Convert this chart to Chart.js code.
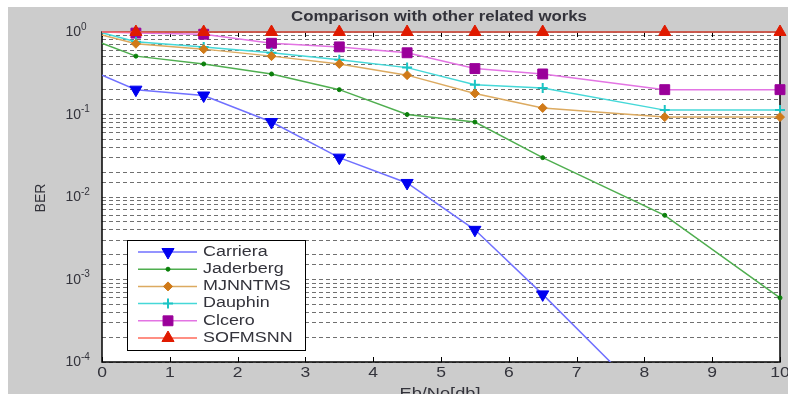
<!DOCTYPE html>
<html>
<head>
<meta charset="utf-8">
<script src="https://cdn.jsdelivr.net/npm/chart.js@4/dist/chart.umd.min.js"></script>
<style>
  html, body { margin: 0; padding: 0; background: #fff; }
  canvas { display: block; }
</style>
</head>
<body>
<canvas id="berChart" width="788" height="394"></canvas>
<script>
// Eb/No sample points
const ebNo = [0, 0.5, 1.5, 2.5, 3.5, 4.5, 5.5, 6.5, 8.3, 10];

// BER values per method
const carriera = [0.30, 0.20, 0.17, 0.081, 0.030, 0.0148, 0.0040, 0.00066, 0.000022, 0.000001];
const jaderberg = [0.73, 0.51, 0.41, 0.31, 0.20, 0.10, 0.081, 0.030, 0.0060, 0.00060];
const mjnntms = [0.92, 0.72, 0.62, 0.51, 0.41, 0.30, 0.18, 0.12, 0.093, 0.093];
const dauphin = [0.98, 0.76, 0.66, 0.56, 0.46, 0.37, 0.23, 0.21, 0.113, 0.113];
const clcero = [1.0, 0.97, 0.94, 0.73, 0.66, 0.56, 0.36, 0.31, 0.20, 0.20];
const sofmsnn = [1, 1, 1, 1, 1, 1, 1, 1, 1, 1];

const xTicks = [0, 1, 2, 3, 4, 5, 6, 7, 8, 9, 10];
const yTickExps = [0, -1, -2, -3, -4];

const chartTitle = 'Comparison with other related works';
const xTitle = 'Eb/No[db]';
const yTitle = 'BER';

function pts(values) {
    return values.map((v, i) => ({ x: ebNo[i], y: v }));
}

function series(label, values, line, marker, style, r, extra) {
    return Object.assign({
        label: label,
        data: pts(values),
        borderColor: line,
        borderWidth: 1.5,
        backgroundColor: marker,
        pointBackgroundColor: marker,
        pointBorderColor: marker,
        pointStyle: style,
        pointRadius: (c) => c.dataIndex === 0 ? 0 : r,
        pointBorderWidth: 1,
        tension: 0,
        clip: 10,
        legendRadius: r
    }, extra || {});
}

const datasets = [
    series('SOFMSNN', sofmsnn, '#ff6a5a', '#e01a00', 'triangle', 7),
    series('Carriera', carriera, '#7070ff', '#0000f0', 'triangle', 7, { pointRotation: 180, clip: 0 }),
    series('Jaderberg', jaderberg, '#4fae4f', '#0a800a', 'circle', 2),
    series('MJNNTMS', mjnntms, '#dcaa60', '#d07a18', 'rectRot', 4.5),
    series('Dauphin', dauphin, '#45d8d8', '#1cc4c4', 'cross', 5, { pointBorderWidth: 2 }),
    series('Clcero', clcero, '#e374e3', '#9a009a', 'rect', 7)
];

const legendOrder = ['Carriera', 'Jaderberg', 'MJNNTMS', 'Dauphin', 'Clcero', 'SOFMSNN'];

function stretchText(ctx, text, x, y, sx, align) {
    ctx.save();
    ctx.translate(x, y);
    ctx.scale(sx, 1);
    ctx.textAlign = align;
    ctx.fillText(text, 0, 0);
    ctx.restore();
}

const decor = {
    id: 'decor',
    beforeDraw(chart) {
        const ctx = chart.ctx, a = chart.chartArea;
        ctx.save();
        ctx.fillStyle = '#ffffff';
        ctx.fillRect(0, 0, chart.width, chart.height);
        ctx.fillStyle = '#cccccc';
        ctx.fillRect(8, 7, chart.width - 8, chart.height - 7);
        ctx.fillStyle = '#ffffff';
        ctx.fillRect(a.left, a.top, a.right - a.left, a.bottom - a.top);
        ctx.restore();
    },
    beforeDatasetsDraw(chart) {
        const ctx = chart.ctx, a = chart.chartArea, xs = chart.scales.x;
        ctx.save();
        ctx.strokeStyle = '#000';
        ctx.lineWidth = 1.5;
        ctx.strokeRect(a.left, a.top, a.right - a.left, a.bottom - a.top);
        ctx.lineWidth = 1;
        ctx.beginPath();
        xTicks.forEach(t => {
            const px = Math.round(xs.getPixelForValue(t)) + 0.5;
            ctx.moveTo(px, a.bottom); ctx.lineTo(px, a.bottom - 5);
            ctx.moveTo(px, a.top); ctx.lineTo(px, a.top + 5);
        });
        ctx.stroke();
        ctx.restore();
    },
    afterDraw(chart) {
        const ctx = chart.ctx, a = chart.chartArea;
        const xs = chart.scales.x, ys = chart.scales.y;
        ctx.save();
        ctx.fillStyle = '#33333b';
        ctx.textBaseline = 'middle';

        // title
        ctx.font = 'bold 14px "Liberation Sans", Arial, sans-serif';
        stretchText(ctx, chartTitle, (a.left + a.right) / 2 - 2, 17.5, 1.2, 'center');

        // x tick labels
        ctx.font = '14px "Liberation Sans", Arial, sans-serif';
        xTicks.forEach(t => {
            stretchText(ctx, String(t), xs.getPixelForValue(t), 373, 1.25, 'center');
        });

        // x title
        ctx.textBaseline = 'top';
        stretchText(ctx, xTitle, 440, 387, 1.3, 'center');

        // y title
        ctx.textBaseline = 'middle';
        ctx.save();
        ctx.translate(41, 198);
        ctx.rotate(-Math.PI / 2);
        ctx.textAlign = 'center';
        ctx.fillText(yTitle, 0, 0);
        ctx.restore();

        // y tick labels 10^n
        yTickExps.forEach(e => {
            const py = ys.getPixelForValue(Math.pow(10, e));
            ctx.font = '14px "Liberation Sans", Arial, sans-serif';
            ctx.textAlign = 'right';
            ctx.fillText('10', 81, py + 0.5);
            ctx.font = '10px "Liberation Sans", Arial, sans-serif';
            ctx.textAlign = 'left';
            ctx.fillText(String(e), 81, py - 5);
        });

        // legend box
        const bx = 127, by = 240, bw = 178, bh = 110;
        ctx.fillStyle = '#ffffff';
        ctx.fillRect(bx, by, bw, bh);
        ctx.strokeStyle = '#000';
        ctx.lineWidth = 1;
        ctx.strokeRect(bx + 0.5, by + 0.5, bw, bh);
        legendOrder.forEach((name, i) => {
            const ds = datasets.find(d => d.label === name);
            const ry = 252 + i * 17.2;
            ctx.strokeStyle = ds.borderColor;
            ctx.lineWidth = 1.5;
            ctx.beginPath();
            ctx.moveTo(138, ry); ctx.lineTo(197, ry);
            ctx.stroke();
            ctx.fillStyle = ds.pointBackgroundColor;
            ctx.strokeStyle = ds.pointBorderColor;
            ctx.lineWidth = ds.pointBorderWidth;
            Chart.helpers.drawPoint(ctx, {
                pointStyle: ds.pointStyle,
                radius: ds.legendRadius,
                rotation: ds.pointRotation || 0,
                borderWidth: ds.pointBorderWidth
            }, 168, ry);
            ctx.fillStyle = '#33333b';
            ctx.font = '14px "Liberation Sans", Arial, sans-serif';
            ctx.textBaseline = 'middle';
            stretchText(ctx, name, 203, ry, 1.28, 'left');
        });
        ctx.restore();
    }
};

new Chart(document.getElementById('berChart'), {
    type: 'line',
    data: { datasets: datasets },
    options: {
        responsive: false,
        animation: false,
        devicePixelRatio: 1,
        layout: { padding: { top: 32, right: 6, left: 0, bottom: 0 } },
        plugins: {
            legend: { display: false },
            title: { display: false },
            tooltip: { enabled: false }
        },
        scales: {
            x: {
                type: 'linear',
                min: 0,
                max: 10,
                ticks: { display: false, stepSize: 1 },
                grid: { drawOnChartArea: false, drawTicks: false },
                border: { display: false },
                afterFit: (s) => { s.height = 32; }
            },
            y: {
                type: 'logarithmic',
                min: 0.0001,
                max: 1,
                ticks: { display: false },
                grid: { color: '#707070', lineWidth: 1, drawTicks: false },
                border: { display: false, dash: [4, 3] },
                afterFit: (s) => { s.width = 102; }
            }
        }
    },
    plugins: [decor]
});
</script>
</body>
</html>
